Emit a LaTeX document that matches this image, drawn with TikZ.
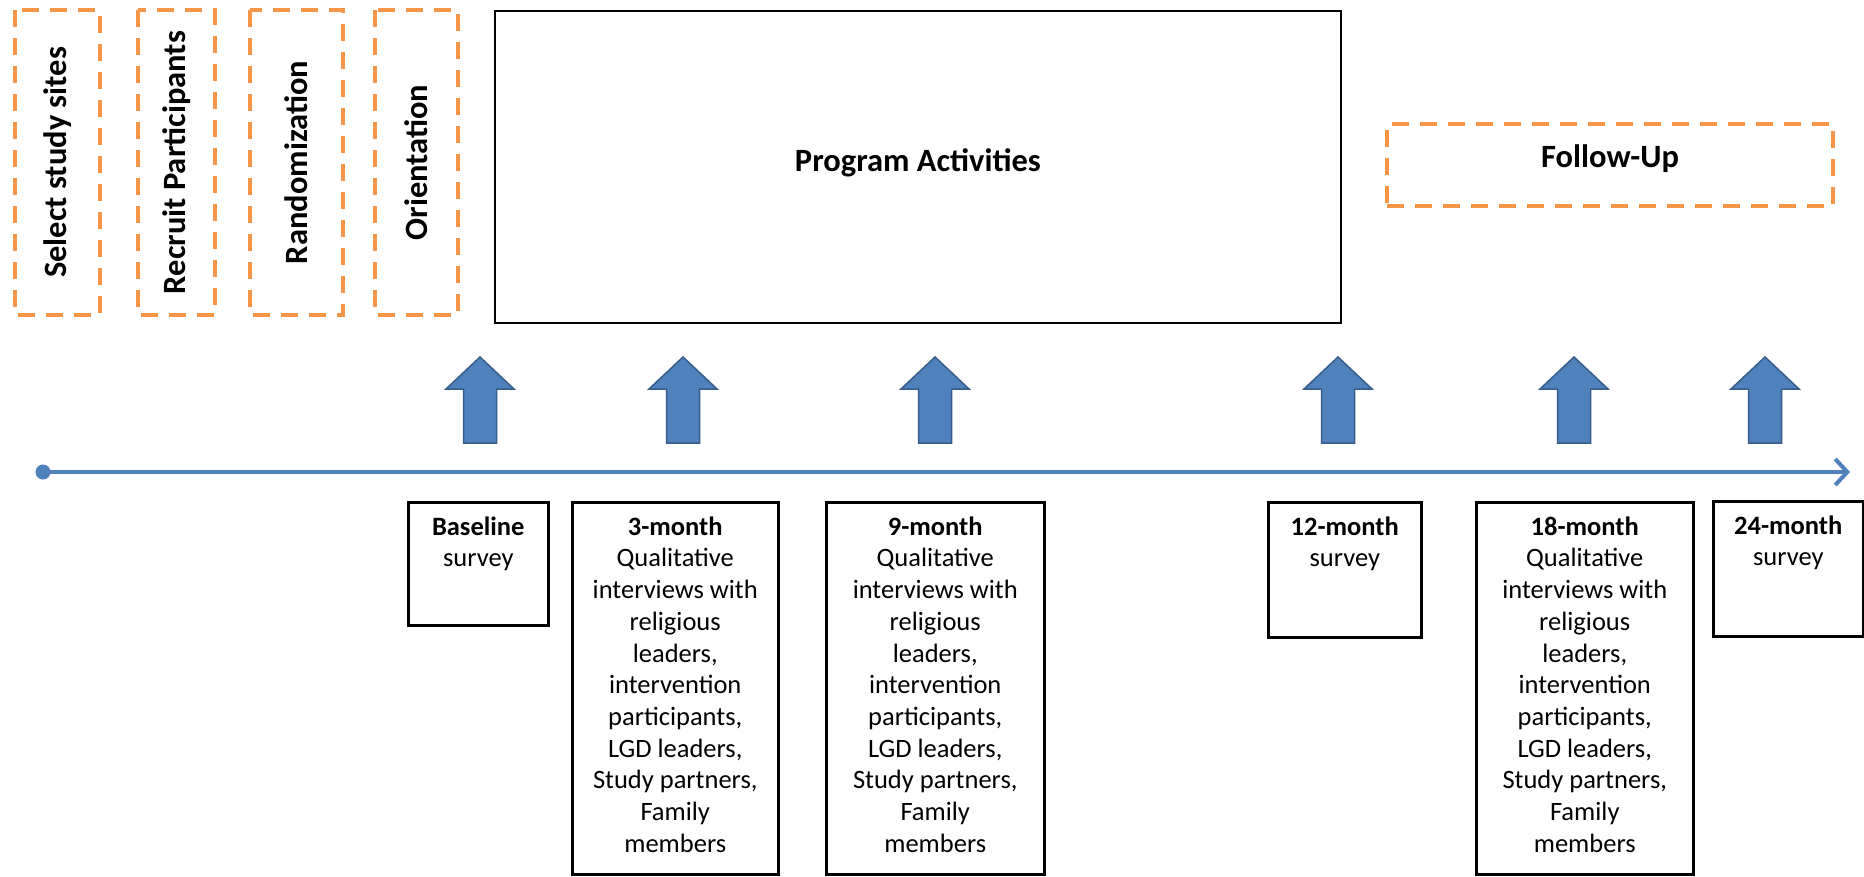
\documentclass[tikz,border=0pt]{standalone}
\usepackage{fontspec}
\setmainfont{Carlito}
\usetikzlibrary{arrows.meta}
\definecolor{orangedash}{HTML}{F79646}
\definecolor{bluefill}{HTML}{4F81BD}
\definecolor{blueline}{HTML}{385D8A}
\begin{document}
\begin{tikzpicture}[x=1pt,y=-1pt,
  phase/.style={draw=orangedash, line width=4pt, dash pattern=on 17pt off 11pt, inner sep=0pt,
                font=\fontsize{32.5}{39}\selectfont\bfseries},
  solidbox/.style={draw=black, line width=2.5pt, inner sep=0pt},
  toplabel/.style={font=\fontsize{32.5}{39}\selectfont\bfseries, inner sep=0pt},
  survbox/.style={draw=black, line width=2.5pt, inner sep=0pt, anchor=north west},
  boxtext/.style={font=\fontsize{26.5}{31.7}\selectfont, align=center, anchor=north, inner sep=0pt, yshift=-11.8pt},
  blockarrow/.style={fill=bluefill, draw=blueline, line width=1.5pt, line join=miter},
  timeline/.style={draw=bluefill, line width=4.5pt, -{Straight Barb[length=12pt,width=26pt,line width=4pt]}},
]
\useasboundingbox (0,0) rectangle (1864,876);
\fill[white] (0,0) rectangle (1864,876);

% phase boxes (rotated)
\node[phase, minimum width=305pt, minimum height=85pt, rotate=90] (sel) at (57.5,162.5) {Select study sites};
\node[phase, minimum width=305pt, minimum height=77pt, rotate=90] (rec) at (176.5,162.5) {Recruit Participants};
\node[phase, minimum width=305pt, minimum height=93pt, rotate=90] (ran) at (296.5,162.5) {Randomization};
\node[phase, minimum width=305pt, minimum height=83pt, rotate=90] (ori) at (416.5,162.5) {Orientation};

% program activities
\node[solidbox, minimum width=846pt, minimum height=312pt] (prog) at (918,167) {};
\node[toplabel, anchor=base] (progt) at (918,171) {Program Activities};

% follow-up
\node[draw=orangedash, line width=4pt, dash pattern=on 17pt off 11pt, minimum width=446pt, minimum height=82pt, inner sep=0pt] (fu) at (1610,165) {};
\node[toplabel, anchor=base] (fut) at (1610,167) {Follow-Up};

% timeline
\coordinate (tl0) at (43,472);
\coordinate (tl1) at (1850,472);
\draw[timeline] (tl0) -- (tl1);
\fill[bluefill] (tl0) circle (7.5);

% block arrows
\foreach \cx in {480,683,935,1338,1574,1765}{
  \draw[blockarrow] (\cx,357) -- ++(34,32) -- ++(-17.5,0) -- ++(0,54) -- ++(-33,0) -- ++(0,-54) -- ++(-17.5,0) -- cycle;
}

% survey boxes
\node[survbox, minimum width=140pt, minimum height=123pt] (b0) at (407,501) {};
\node[survbox, minimum width=206pt, minimum height=372pt] (b3) at (571,501) {};
\node[survbox, minimum width=218pt, minimum height=372pt] (b9) at (825,501) {};
\node[survbox, minimum width=153pt, minimum height=135pt] (b12) at (1267,501) {};
\node[survbox, minimum width=217pt, minimum height=372pt] (b18) at (1475,501) {};
\node[survbox, minimum width=150pt, minimum height=135pt] (b24) at (1712,500) {};

\node[boxtext] (t0) at (b0.north) {\strut\textbf{Baseline}\\survey};
\node[boxtext] (t3) at (b3.north) {\strut\textbf{3-month}\\Qualitative\\interviews with\\religious\\leaders,\\intervention\\participants,\\LGD leaders,\\Study partners,\\Family\\members};
\node[boxtext] (t9) at (b9.north) {\strut\textbf{9-month}\\Qualitative\\interviews with\\religious\\leaders,\\intervention\\participants,\\LGD leaders,\\Study partners,\\Family\\members};
\node[boxtext] (t12) at (b12.north) {\strut\textbf{12-month}\\survey};
\node[boxtext] (t18) at (b18.north) {\strut\textbf{18-month}\\Qualitative\\interviews with\\religious\\leaders,\\intervention\\participants,\\LGD leaders,\\Study partners,\\Family\\members};
\node[boxtext] (t24) at (b24.north) {\strut\textbf{24-month}\\survey};
\end{tikzpicture}
\end{document}
